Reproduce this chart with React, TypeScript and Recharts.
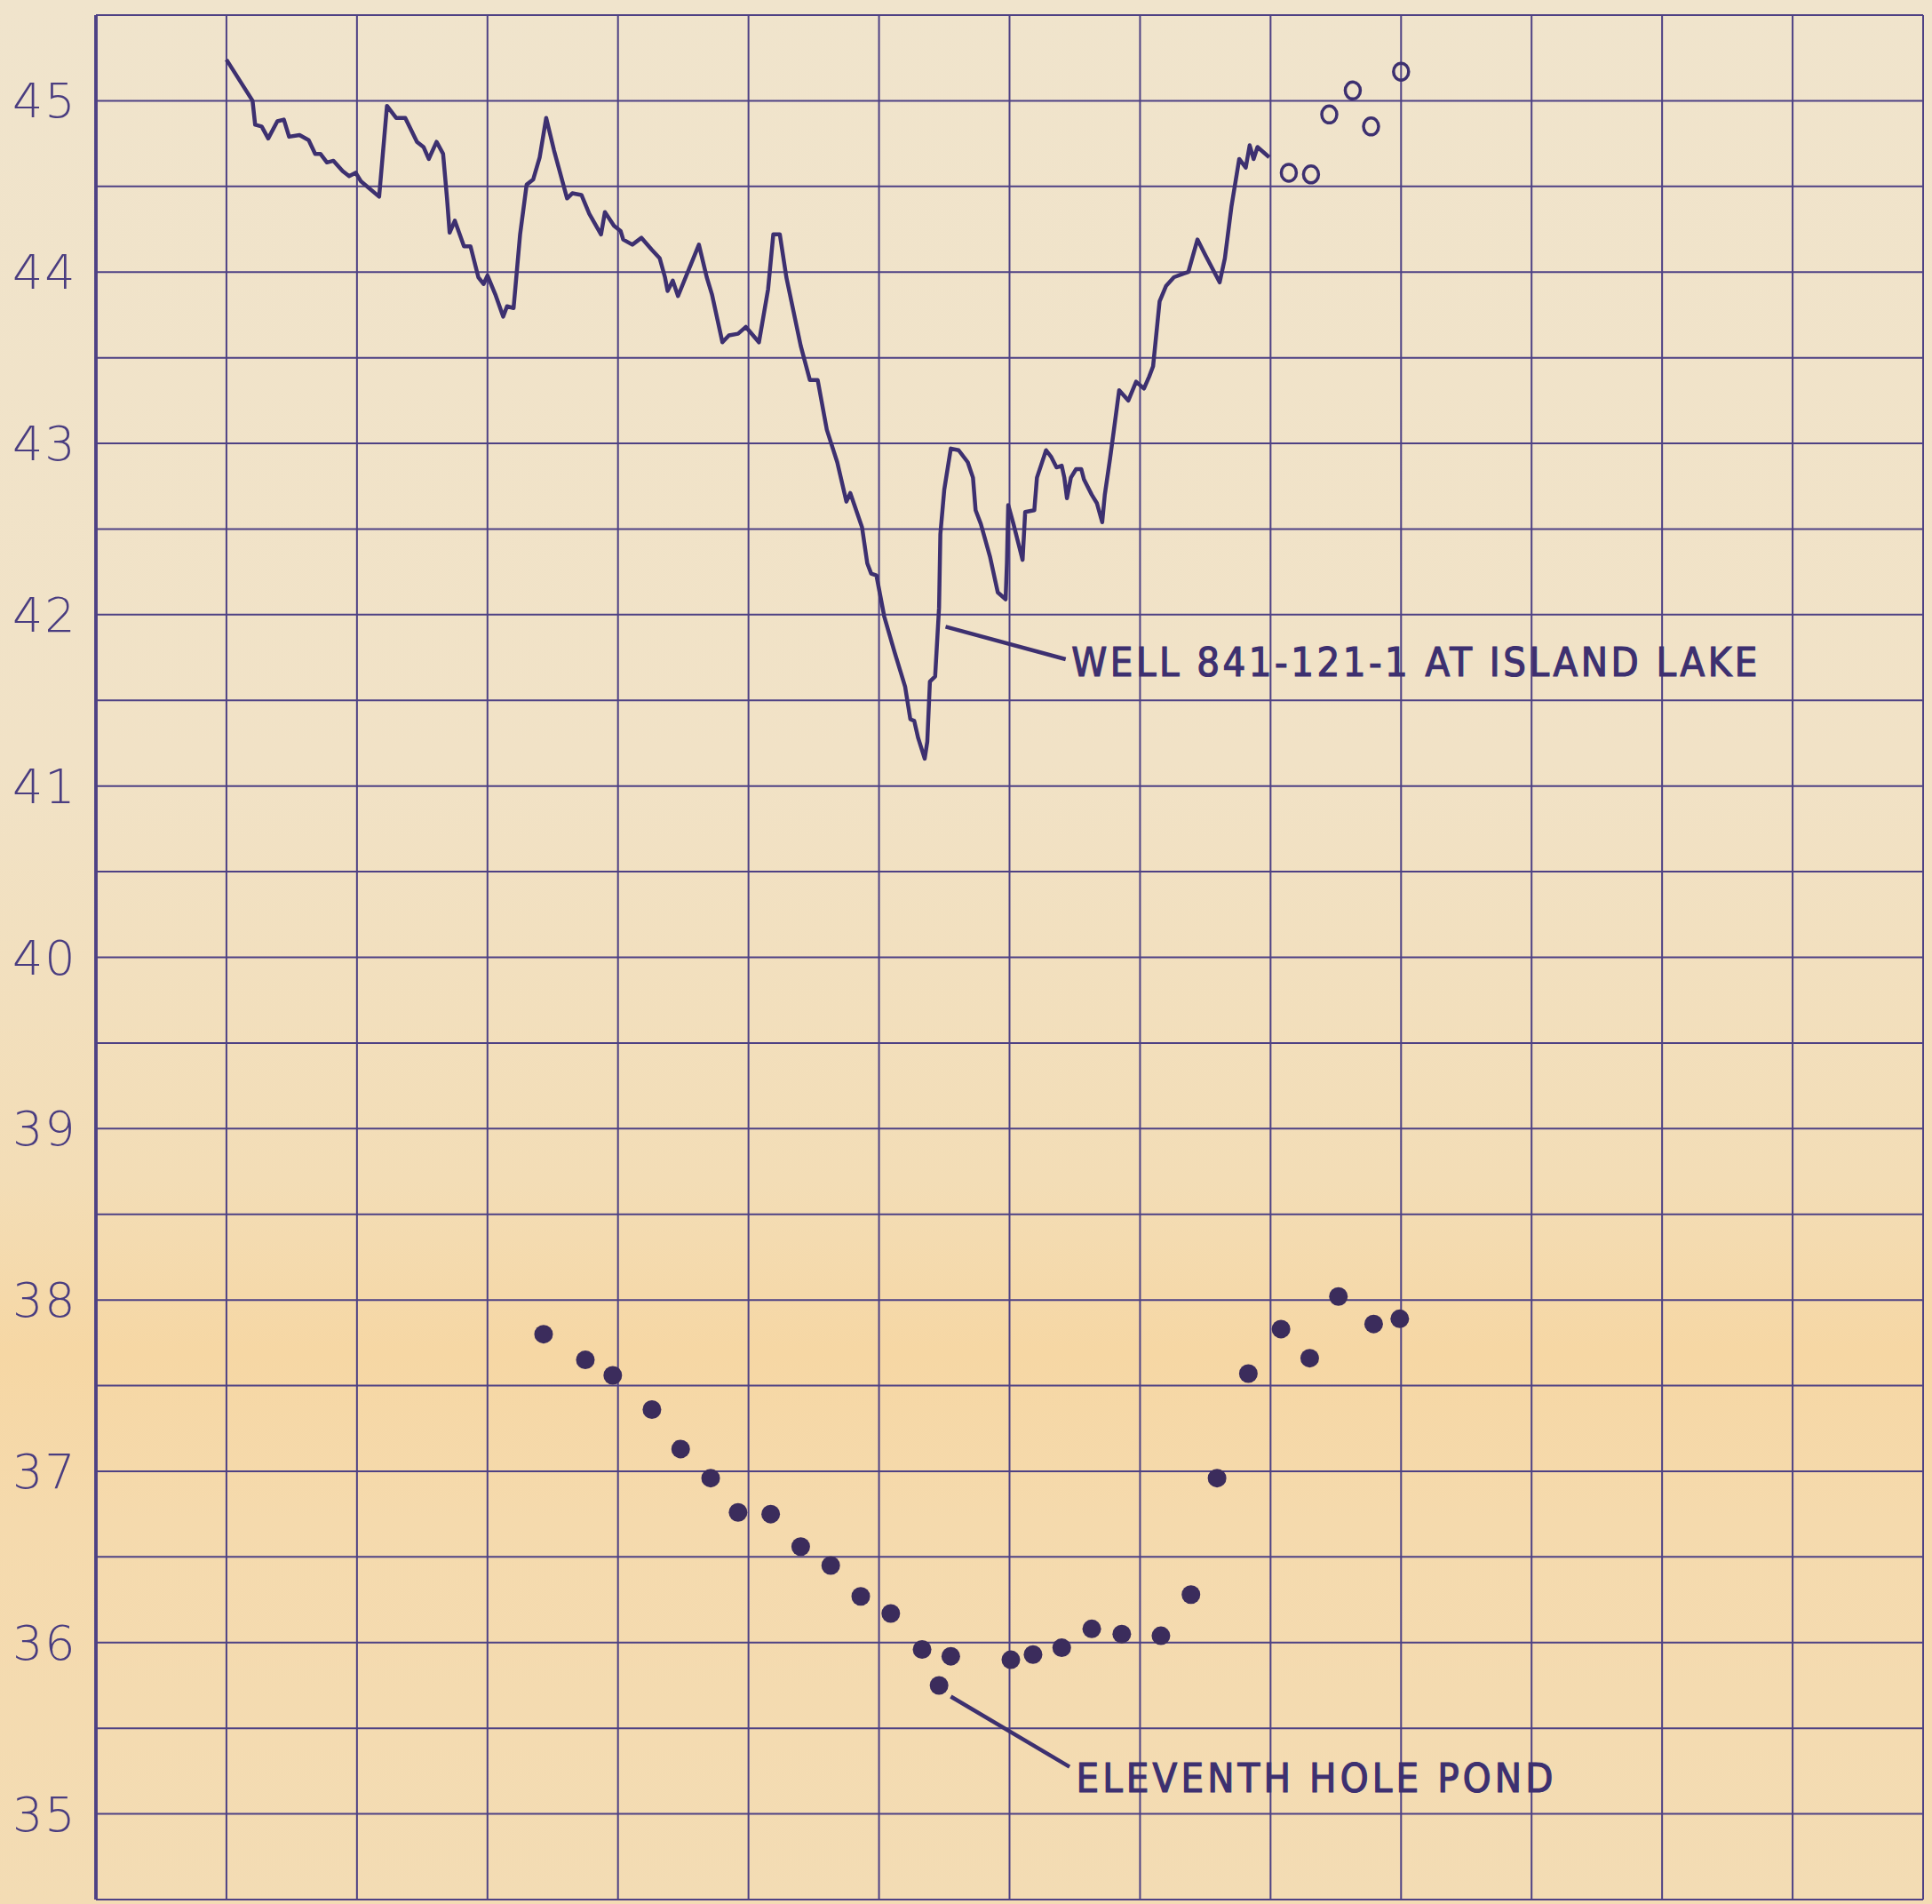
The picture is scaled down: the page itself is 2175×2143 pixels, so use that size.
import React from 'react'
import {
  ComposedChart,
  Line,
  Scatter,
  XAxis,
  YAxis,
  CartesianGrid,
  ReferenceLine,
  ReferenceDot,
} from 'recharts'

// x positions are in grid columns (0..14), y values in feet
const wellX = [
  1.0, 1.2, 1.22, 1.27, 1.32, 1.39, 1.44, 1.48, 1.56, 1.63, 1.68, 1.72, 1.77, 1.82, 1.89, 1.94, 1.99, 2.03,
  2.17, 2.23, 2.3, 2.37, 2.46, 2.51, 2.55, 2.61, 2.66, 2.69, 2.71, 2.75, 2.82, 2.87, 2.93, 2.97, 3.0, 3.06,
  3.12, 3.15, 3.2, 3.25, 3.3, 3.35, 3.4, 3.45, 3.51, 3.61, 3.65, 3.72, 3.78, 3.87, 3.9, 3.97, 4.02, 4.04,
  4.11, 4.18, 4.26, 4.32, 4.36, 4.38, 4.42, 4.46, 4.62, 4.68, 4.72, 4.8, 4.85, 4.92, 4.98, 5.08, 5.15, 5.19,
  5.24, 5.29, 5.4, 5.47, 5.53, 5.6, 5.68, 5.75, 5.78, 5.87, 5.91, 5.94, 5.98, 6.04, 6.12, 6.2, 6.24, 6.27,
  6.3, 6.35, 6.37, 6.39, 6.43, 6.46, 6.47, 6.5, 6.55, 6.61, 6.68, 6.72, 6.74, 6.78, 6.85, 6.91, 6.97, 6.98,
  6.99, 7.03, 7.1, 7.12, 7.19, 7.21, 7.28, 7.32, 7.36, 7.4, 7.42, 7.44, 7.47, 7.51, 7.55, 7.57, 7.63, 7.67,
  7.71, 7.73, 7.77, 7.8, 7.84, 7.91, 7.97, 8.03, 8.07, 8.1, 8.15, 8.2, 8.26, 8.33, 8.37, 8.44, 8.5, 8.61,
  8.65, 8.7, 8.76, 8.81, 8.84, 8.87, 8.9, 8.99,
]
const wellLevel = [
  45.24, 45.0, 44.86, 44.85, 44.78, 44.88, 44.89, 44.79, 44.8, 44.77, 44.69, 44.69, 44.64, 44.65, 44.59, 44.56, 44.58, 44.53,
  44.44, 44.97, 44.9, 44.9, 44.76, 44.73, 44.66, 44.76, 44.69, 44.43, 44.23, 44.3, 44.15, 44.15, 43.97, 43.93, 43.98, 43.87,
  43.74, 43.8, 43.79, 44.22, 44.51, 44.54, 44.67, 44.9, 44.71, 44.43, 44.46, 44.45, 44.34, 44.22, 44.35, 44.27, 44.24, 44.19,
  44.16, 44.2, 44.13, 44.08, 43.97, 43.89, 43.95, 43.86, 44.16, 43.97, 43.87, 43.59, 43.63, 43.64, 43.68, 43.59, 43.9, 44.22,
  44.22, 43.97, 43.57, 43.37, 43.37, 43.08, 42.89, 42.66, 42.71, 42.51, 42.3, 42.24, 42.23, 41.99, 41.78, 41.58, 41.39, 41.38,
  41.28, 41.16, 41.26, 41.61, 41.64, 42.04, 42.47, 42.73, 42.97, 42.96, 42.89, 42.8, 42.61, 42.53, 42.34, 42.13, 42.09, 42.3,
  42.64, 42.53, 42.32, 42.6, 42.61, 42.8, 42.96, 42.92, 42.86, 42.87, 42.8, 42.68, 42.8, 42.85, 42.85, 42.79, 42.7, 42.65,
  42.54, 42.7, 42.91, 43.08, 43.31, 43.25, 43.36, 43.32, 43.39, 43.45, 43.83, 43.92, 43.97, 43.99, 44.0, 44.19, 44.1, 43.94,
  44.08, 44.38, 44.66, 44.61, 44.74, 44.66, 44.73, 44.67,
]

const wellOpenX = [9.14, 9.31, 9.45, 9.63, 9.77, 10.0]
const wellOpenLevel = [44.58, 44.57, 44.92, 45.06, 44.85, 45.17]

const pondX = [
  3.43, 3.75, 3.96, 4.26, 4.48, 4.71, 4.92, 5.17, 5.4, 5.63, 5.86, 6.09, 6.33, 6.46, 6.55,
  7.01, 7.18, 7.4, 7.63, 7.86, 8.16, 8.39, 8.59, 8.83, 9.08, 9.3, 9.52, 9.79, 9.99,
]
const pondLevel = [
  37.8, 37.65, 37.56, 37.36, 37.13, 36.96, 36.76, 36.75, 36.56, 36.45, 36.27, 36.17, 35.96, 35.75, 35.92,
  35.9, 35.93, 35.97, 36.08, 36.05, 36.04, 36.28, 36.96, 37.57, 37.83, 37.66, 38.02, 37.86, 37.89,
]

const columns = [0, 1, 2, 3, 4, 5, 6, 7, 8, 9, 10, 11, 12, 13, 14]
const levelTicks = [
  34.5, 35, 35.5, 36, 36.5, 37, 37.5, 38, 38.5, 39, 39.5, 40, 40.5, 41, 41.5, 42, 42.5, 43, 43.5, 44, 44.5, 45, 45.5,
]

const wellLabel = 'WELL 841-121-1 AT ISLAND LAKE'
const pondLabel = 'ELEVENTH HOLE POND'

const wellData = wellX.map((x, i) => ({ x, y: wellLevel[i] }))
const wellOpenData = wellOpenX.map((x, i) => ({ x, y: wellOpenLevel[i] }))
const pondData = pondX.map((x, i) => ({ x, y: pondLevel[i] }))

const INK = '#3d3070'
const GRID = '#4e4184'

const LevelTick = ({ y, payload }: { y?: number; payload?: { value: number } }) => {
  if (!payload || !Number.isInteger(payload.value)) return null
  return (
    <text
      x={14}
      y={y}
      dy={19}
      fill="#4a3d80"
      fontSize={54}
      fontFamily="DejaVu Sans, sans-serif"
      fontWeight={200}
      letterSpacing={2}
    >
      {payload.value}
    </text>
  )
}

const labelShape = (text: string, width: number) => (props: { cx?: number; cy?: number }) => (
  <text
    x={props.cx}
    y={props.cy}
    fill={INK}
    stroke={INK}
    strokeWidth={1.2}
    fontSize={45}
    fontFamily="DejaVu Sans Condensed, DejaVu Sans, sans-serif"
    textLength={width}
    lengthAdjust="spacing"
  >
    {text}
  </text>
)

const filledDot = (props: { cx?: number; cy?: number }) => (
  <circle cx={props.cx} cy={props.cy} r={10.5} fill="#3b2c5c" />
)

const openDot = (props: { cx?: number; cy?: number }) => (
  <ellipse cx={props.cx} cy={props.cy} rx={8.5} ry={9.5} fill="none" stroke={INK} strokeWidth={3.5} />
)

export default function App() {
  return (
    <div
      style={{
        position: 'absolute',
        left: 0,
        top: 0,
        width: 2175,
        height: 2143,
        background:
          'linear-gradient(to bottom, #f0e4cc 0%, #f1e2c6 40%, #f3ddb6 62%, #f6d7a4 71%, #f5daad 80%, #f3dcb4 100%)',
      }}
    >
      <ComposedChart width={2175} height={2143} margin={{ top: 17, right: 10, bottom: 5, left: 0 }}>
        <CartesianGrid stroke={GRID} strokeWidth={2} vertical={false} />
        <XAxis
          type="number"
          dataKey="x"
          domain={[0, 14]}
          ticks={columns}
          interval={0}
          tick={false}
          tickLine={false}
          axisLine={{ stroke: GRID, strokeWidth: 3 }}
          height={0}
          allowDataOverflow
        />
        <YAxis
          type="number"
          dataKey="y"
          domain={[34.5, 45.5]}
          ticks={levelTicks}
          interval={0}
          width={108}
          tickLine={false}
          axisLine={{ stroke: GRID, strokeWidth: 3.5 }}
          tick={<LevelTick />}
          allowDataOverflow
        />
        {columns.map((c) => (
          <ReferenceLine key={c} x={c} stroke={GRID} strokeWidth={c === 0 ? 3.5 : 2} />
        ))}
        <Line
          data={wellData}
          dataKey="y"
          type="linear"
          stroke={INK}
          strokeWidth={4.5}
          strokeLinejoin="round"
          dot={false}
          activeDot={false}
          isAnimationActive={false}
        />
        <Scatter data={wellOpenData} dataKey="y" shape={openDot} isAnimationActive={false} />
        <Scatter data={pondData} dataKey="y" shape={filledDot} isAnimationActive={false} />
        <ReferenceLine
          segment={[
            { x: 6.51, y: 41.93 },
            { x: 7.43, y: 41.74 },
          ]}
          stroke={INK}
          strokeWidth={4.5}
        />
        <ReferenceLine
          segment={[
            { x: 6.55, y: 35.685 },
            { x: 7.46, y: 35.275 },
          ]}
          stroke={INK}
          strokeWidth={4.5}
        />
        <ReferenceDot x={7.475} y={41.64} r={0} shape={labelShape(wellLabel, 772)} />
        <ReferenceDot x={7.51} y={35.125} r={0} shape={labelShape(pondLabel, 537)} />
      </ComposedChart>
    </div>
  )
}
